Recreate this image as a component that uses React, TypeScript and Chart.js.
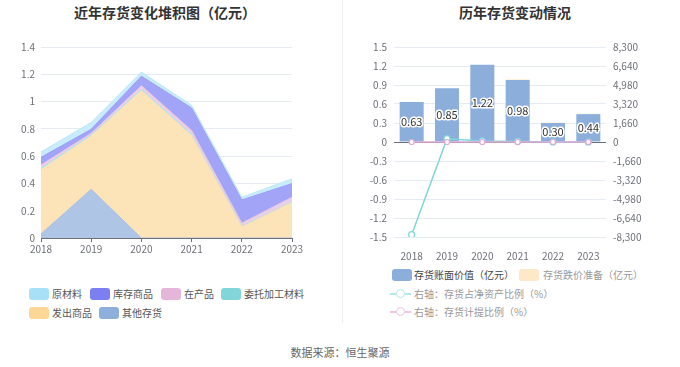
import React, { useEffect, useRef } from 'react';
import { Chart, registerables } from 'chart.js';

Chart.register(...registerables);

const FONT = '"Noto Sans CJK SC", "Noto Sans", sans-serif';
Chart.defaults.font.family = FONT;

// ---- Left chart data (亿元) ----
const years = ['2018', '2019', '2020', '2021', '2022', '2023'];
const otherInv = [0.03, 0.357, 0, 0, 0, 0];          // 其他存货
const shippedGoods = [0.47, 0.39, 1.08, 0.75, 0.08, 0.26]; // 发出商品
const consigned = [0.01, 0.008, 0.008, 0.008, 0.006, 0.004]; // 委托加工材料
const wip = [0.025, 0.012, 0.028, 0.03, 0.023, 0.035];   // 在产品
const finished = [0.056, 0.03, 0.07, 0.165, 0.17, 0.1];  // 库存商品
const rawMat = [0.04, 0.05, 0.03, 0.02, 0.02, 0.035];    // 原材料

// ---- Right chart data ----
const bookValue = [0.63, 0.85, 1.22, 0.98, 0.3, 0.44];     // 存货账面价值（亿元）
const impairment = [0, 0, 0, 0.008, 0.006, 0.006];        // 存货跌价准备（亿元）
const invToNetAssets = [-8100, 290, 90, 40, 10, 10];      // 存货占净资产比例（%）
const provisionRatio = [0, 0, 0, 0.8, 1.9, 1.3];          // 存货计提比例（%）

const leftAxis = { min: 0, max: 1.4, step: 0.2 };
const rightLeftAxis = { min: -1.5, max: 1.5, step: 0.3 };
const rightRightAxis = { min: -8300, max: 8300, step: 1660 };

const TICK_COLOR = '#6e7079';
const GRID_COLOR = '#e6ebf3';

const leftLegend = [
  { name: '原材料', color: '#a8e0f8', x: 29, y: 294 },
  { name: '库存商品', color: '#7b7ff2', x: 90, y: 294 },
  { name: '在产品', color: '#e6b6da', x: 161, y: 294 },
  { name: '委托加工材料', color: '#82d5d9', x: 221, y: 294 },
  { name: '发出商品', color: '#fed797', x: 29, y: 313 },
  { name: '其他存货', color: '#8dafdc', x: 99, y: 313 },
];

function AreaChart() {
  const ref = useRef<HTMLCanvasElement>(null);
  useEffect(() => {
    const mk = (label: string, data: number[], bg: string, border: string, fill: any) => ({
      label, data, backgroundColor: bg, borderColor: border, borderWidth: 1, fill,
      pointRadius: 0, tension: 0,
    });
    const chart = new Chart(ref.current!, {
      type: 'line',
      data: {
        labels: years,
        datasets: [
          mk('其他存货', otherInv, '#aec5e6', '#a9c1e5', 'origin'),
          mk('发出商品', shippedGoods, '#fde4b8', '#fde0b2', '-1'),
          mk('委托加工材料', consigned, '#b6e8ea', '#a8e4e8', '-1'),
          mk('在产品', wip, '#ebcfe6', '#e6c4e0', '-1'),
          mk('库存商品', finished, '#a1a4f7', '#9a9ef6', '-1'),
          mk('原材料', rawMat, '#c8ecfb', '#bce8fb', '-1'),
        ] as any,
      },
      options: {
        animation: false,
        responsive: false,
        devicePixelRatio: 1,
        layout: { padding: { left: 0, right: 48, top: 47, bottom: 0 } },
        plugins: { legend: { display: false }, tooltip: { enabled: false } },
        scales: {
          x: {
            offset: false,
            grid: { display: true, drawOnChartArea: false, drawTicks: true, tickLength: 4, color: TICK_COLOR },
            border: { display: true, color: TICK_COLOR },
            ticks: { color: TICK_COLOR, font: { size: 10 }, padding: 1, maxRotation: 0, autoSkip: false },
            afterFit: (s: any) => { s.height = 22; },
          },
          y: {
            stacked: true,
            min: leftAxis.min,
            max: leftAxis.max,
            ticks: {
              stepSize: leftAxis.step, color: TICK_COLOR, font: { size: 10 }, padding: 6,
              callback: (v: any) => String(Math.round(Number(v) * 10) / 10),
            },
            grid: { color: GRID_COLOR, drawTicks: false },
            border: { display: false },
            afterFit: (s: any) => { s.width = 41; },
          },
        },
      } as any,
    });
    return () => chart.destroy();
  }, []);
  return <canvas ref={ref} width={340} height={260} style={{ position: 'absolute', left: 0, top: 0 }} />;
}

const barLabelPlugin = {
  id: 'barLabels',
  afterDatasetsDraw(chart: any) {
    const meta = chart.getDatasetMeta(0);
    const ctx = chart.ctx;
    ctx.save();
    ctx.font = `11px ${FONT}`;
    ctx.textAlign = 'center';
    ctx.textBaseline = 'middle';
    ctx.lineWidth = 3;
    ctx.lineJoin = 'round';
    ctx.strokeStyle = '#fff';
    ctx.fillStyle = '#333';
    meta.data.forEach((el: any, i: number) => {
      const v = chart.data.datasets[0].data[i] as number;
      const txt = v.toFixed(2);
      const y = (el.y + el.base) / 2;
      ctx.strokeText(txt, el.x, y);
      ctx.fillText(txt, el.x, y);
    });
    ctx.restore();
  },
};

function BarLineChart() {
  const ref = useRef<HTMLCanvasElement>(null);
  useEffect(() => {
    const chart = new Chart(ref.current!, {
      type: 'bar',
      data: {
        labels: years,
        datasets: [
          {
            type: 'bar', label: '存货账面价值（亿元）', data: bookValue, backgroundColor: '#8caedb',
            stack: 's', yAxisID: 'y', order: 3, barPercentage: 0.68, categoryPercentage: 1,
          },
          {
            type: 'bar', label: '存货跌价准备（亿元）', data: impairment, backgroundColor: '#fde3bd',
            stack: 's', yAxisID: 'y', order: 3, barPercentage: 0.68, categoryPercentage: 1,
          },
          {
            type: 'line', label: '右轴：存货占净资产比例（%）', data: invToNetAssets, yAxisID: 'y1',
            borderColor: '#7fd5da', borderWidth: 1.5, pointRadius: 3, pointBackgroundColor: '#fff',
            pointBorderColor: '#7fd5da', pointBorderWidth: 1.2, order: 2, tension: 0,
          },
          {
            type: 'line', label: '右轴：存货计提比例（%）', data: provisionRatio, yAxisID: 'y1',
            borderColor: '#e3a9d7', borderWidth: 1.5, pointRadius: 2.5, pointBackgroundColor: '#fff',
            pointBorderColor: '#e3a9d7', pointBorderWidth: 1.2, order: 1, tension: 0,
          },
        ] as any,
      },
      options: {
        animation: false,
        responsive: false,
        devicePixelRatio: 1,
        layout: { padding: { left: 0, right: 0, top: 47, bottom: 0 } },
        plugins: { legend: { display: false }, tooltip: { enabled: false } },
        scales: {
          x: {
            stacked: true,
            grid: { display: false },
            border: { display: false },
            ticks: { color: TICK_COLOR, font: { size: 10 }, padding: 5, maxRotation: 0, autoSkip: false },
            afterFit: (s: any) => { s.height = 23; },
          },
          y: {
            stacked: true,
            position: 'left',
            min: rightLeftAxis.min,
            max: rightLeftAxis.max,
            ticks: {
              stepSize: rightLeftAxis.step, color: TICK_COLOR, font: { size: 10 }, padding: 7,
              callback: (v: any) => {
                const n = Number(v);
                return Math.abs(n) < 1e-9 ? '0' : n.toFixed(1);
              },
            },
            grid: {
              color: (c: any) => (Math.abs(c.tick?.value ?? 1) < 1e-9 ? TICK_COLOR : GRID_COLOR),
              drawTicks: false,
            },
            border: { display: false },
            afterFit: (s: any) => { s.width = 54; },
          },
          y1: {
            position: 'right',
            min: rightRightAxis.min,
            max: rightRightAxis.max,
            ticks: {
              stepSize: rightRightAxis.step, color: TICK_COLOR, font: { size: 10 }, padding: 7,
              callback: (v: any) => Math.round(Number(v)).toLocaleString('en-US'),
            },
            grid: { drawOnChartArea: false, drawTicks: false },
            border: { display: false },
            afterFit: (s: any) => { s.width = 74; },
          },
        },
      } as any,
      plugins: [barLabelPlugin as any],
    });
    return () => chart.destroy();
  }, []);
  return <canvas ref={ref} width={340} height={260} style={{ position: 'absolute', left: 340, top: 0 }} />;
}

function Box({ x, y, color }: { x: number; y: number; color: string }) {
  return (
    <div style={{ position: 'absolute', left: x, top: y - 6, width: 20, height: 12, borderRadius: 3, background: color }} />
  );
}

function LineIcon({ x, y, color }: { x: number; y: number; color: string }) {
  return (
    <>
      <div style={{ position: 'absolute', left: x, top: y - 1, width: 21, height: 1.5, background: color }} />
      <div style={{
        position: 'absolute', left: x + 6, top: y - 5, width: 7, height: 7, borderRadius: '50%',
        border: `1.5px solid ${color}`, background: '#fff',
      }} />
    </>
  );
}

function Label({ x, y, text, color, size = 10 }: { x: number; y: number; text: string; color: string; size?: number }) {
  return (
    <div style={{
      position: 'absolute', left: x, top: y - 8, height: 16, lineHeight: '16px', fontSize: size,
      color, whiteSpace: 'nowrap',
    }}>{text}</div>
  );
}

export default function App() {
  return (
    <div style={{
      position: 'absolute', left: 0, top: 0, width: 680, height: 367, background: '#fff',
      fontFamily: FONT, overflow: 'hidden',
    }}>
      <div style={{
        position: 'absolute', left: 0, width: 330, top: 3, textAlign: 'center', fontSize: 14,
        fontWeight: 'bold', color: '#333', lineHeight: '18px',
      }}>近年存货变化堆积图（亿元）</div>
      <div style={{
        position: 'absolute', left: 345, width: 340, top: 3, textAlign: 'center', fontSize: 14,
        fontWeight: 'bold', color: '#333', lineHeight: '18px',
      }}>历年存货变动情况</div>
      <div style={{ position: 'absolute', left: 342, top: 0, width: 1, height: 323, background: '#f0f0f0' }} />

      <AreaChart />
      <BarLineChart />

      {leftLegend.map((l) => (
        <React.Fragment key={l.name}>
          <Box x={l.x} y={l.y} color={l.color} />
          <Label x={l.x + 23} y={l.y} text={l.name} color="#555" />
        </React.Fragment>
      ))}

      <Box x={392} y={275} color="#8caedb" />
      <Label x={414} y={275} text="存货账面价值（亿元）" color="#444" />
      <Box x={519} y={275} color="#fde8c8" />
      <Label x={543} y={275} text="存货跌价准备（亿元）" color="#999" />
      <LineIcon x={390} y={294} color="#b3e8eb" />
      <Label x={414} y={294} text="右轴：存货占净资产比例（%）" color="#999" />
      <LineIcon x={390} y={312} color="#f0c6e4" />
      <Label x={414} y={312} text="右轴：存货计提比例（%）" color="#999" />

      <div style={{
        position: 'absolute', left: 0, width: 680, top: 344, textAlign: 'center', fontSize: 11,
        color: '#666', lineHeight: '16px',
      }}>数据来源：恒生聚源</div>
    </div>
  );
}
